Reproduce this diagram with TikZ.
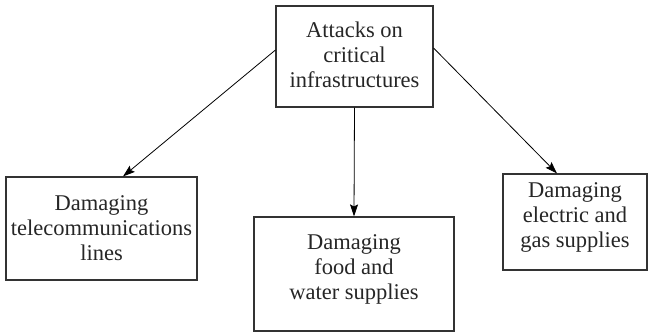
\documentclass[tikz,border=0pt]{standalone}
\usepackage{fontspec}
\newfontfamily\boxfont{Liberation Serif}
\usetikzlibrary{arrows.meta,calc}
\begin{document}
\begin{tikzpicture}[x=1pt,y=-1pt,
  box/.style={draw=black!80,line width=1.1pt,rectangle,inner sep=0pt},
  boxtext/.style={align=center,inner sep=0pt,font=\boxfont\fontsize{22.5}{25}\selectfont,text=black!85},
  link/.style={line width=0.8pt,-{Stealth[length=12pt,width=8pt,inset=2pt]}}]
\useasboundingbox (0,0) rectangle (649,332);
% boxes
\node[box,minimum width=157pt,minimum height=101pt] (top) at (354.5,56.5) {};
\node[box,minimum width=191pt,minimum height=103pt] (tele) at (101.5,228.5) {};
\node[box,minimum width=200pt,minimum height=114pt] (food) at (354,274) {};
\node[box,minimum width=144pt,minimum height=96pt] (elec) at (575,222) {};
% texts
\node[boxtext] (toptext) at (354.5,55) {Attacks on\\critical\\infrastructures};
\node[boxtext] (teletext) at (101.5,228) {Damaging\\telecommunications\\lines};
\node[boxtext] (foodtext) at (354,269) {Damaging\\food and\\water supplies};
\node[boxtext] (electext) at (575,217) {Damaging\\electric and\\gas supplies};
% connectors
\draw[link] ([yshift=6.5pt]top.west) -- ([xshift=21.5pt]tele.north);
\draw[link] (top.south) -- (food.north);
\draw[link] ([yshift=8.5pt]top.east) -- ([xshift=-18pt]elec.north);
\end{tikzpicture}
\end{document}
